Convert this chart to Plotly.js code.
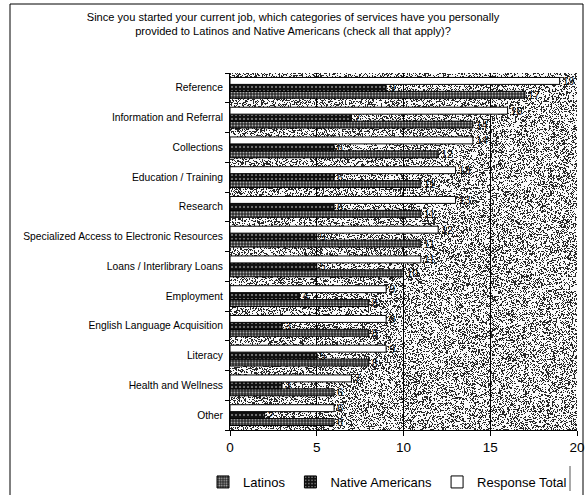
<!DOCTYPE html>
<html>
<head>
<meta charset="utf-8">
<script src="https://cdn.plot.ly/plotly-3.0.1.min.js"></script>
<style>
  html, body { margin: 0; padding: 0; background: #ffffff; }
  #chart { width: 586px; height: 495px; }
</style>
</head>
<body>
<div id="chart"></div>
<script>
// Service categories, listed bottom-to-top so "Reference" sits at the top
const categories = [
  'Other',
  'Health and Wellness',
  'Literacy',
  'English Language Acquisition',
  'Employment',
  'Loans / Interlibrary Loans',
  'Specialized Access to Electronic Resources',
  'Research',
  'Education / Training',
  'Collections',
  'Information and Referral',
  'Reference'
];
const latinos         = [6, 6, 8, 8, 8, 10, 11, 11, 11, 12, 14, 17];
const nativeAmericans = [2, 3, 5, 3, 4, 5, 5, 6, 6, 6, 7, 9];
const responseTotal   = [6, 7, 9, 9, 9, 11, 12, 13, 13, 14, 16, 19];
const xTicks = [0, 5, 10, 15, 20];

// Plot-area geometry (pixels) used for the surrounding frame
const W = 586, H = 495;
const M = { l: 230, r: 9, t: 73, b: 65 };
const PW = W - M.l - M.r, PH = H - M.t - M.b;
const px = x => (x - M.l) / PW;
const py = y => (H - M.b - y) / PH;

// Fine stippled grey texture for the plot background
function stipple(w, h, density) {
  const c = document.createElement('canvas');
  c.width = w; c.height = h;
  const g = c.getContext('2d');
  const img = g.createImageData(w, h);
  const hash = (a, b) => {
    let n = (a * 374761393 + b * 668265263) | 0;
    n = (n ^ (n >>> 13)) * 1274126177 | 0;
    n = n ^ (n >>> 16);
    return ((n >>> 0) % 10000) / 10000;
  };
  for (let y = 0; y < h; y++) {
    for (let x = 0; x < w; x++) {
      const v = 0.8 * hash(x, y) + 0.2 * hash(x >> 1, (y >> 1) + 7919);
      const k = v < density ? 40 : 250;
      const i = (y * w + x) * 4;
      img.data[i] = img.data[i + 1] = img.data[i + 2] = k;
      img.data[i + 3] = 255;
    }
  }
  g.putImageData(img, 0, 0);
  return c.toDataURL('image/png');
}

const labelFont = { family: 'Liberation Sans, Arial, sans-serif', size: 10.5, color: '#000' };

const barCommon = {
  type: 'bar', orientation: 'h',
  y: categories,
  textposition: 'outside',
  constraintext: 'none',
  textfont: labelFont,
  cliponaxis: false
};

const traces = [
  Object.assign({}, barCommon, {
    name: 'Latinos',
    x: latinos,
    text: latinos.map(String),
    marker: {
      color: '#3a3a3a',
      line: { color: '#000', width: 1 },
      pattern: { shape: '.', bgcolor: '#2e2e2e', fgcolor: '#b0b0b0', size: 3, solidity: 0.3, fillmode: 'replace' }
    }
  }),
  Object.assign({}, barCommon, {
    name: 'Native Americans',
    x: nativeAmericans,
    text: nativeAmericans.map(String),
    marker: {
      color: '#151515',
      line: { color: '#000', width: 1 },
      pattern: { shape: '.', bgcolor: '#111111', fgcolor: '#8a8a8a', size: 4, solidity: 0.2, fillmode: 'replace' }
    }
  }),
  Object.assign({}, barCommon, {
    name: 'Response Total',
    x: responseTotal,
    text: responseTotal.map(String),
    marker: { color: '#ffffff', line: { color: '#000', width: 1 } }
  })
];

const layout = {
  width: W, height: H,
  margin: Object.assign({ autoexpand: false }, M),
  paper_bgcolor: '#ffffff',
  plot_bgcolor: 'rgba(0,0,0,0)',
  font: { family: 'Liberation Sans, Arial, sans-serif', color: '#000' },
  title: {
    text: 'Since you started your current job, which categories of services have you personally<br>provided to Latinos and Native Americans (check all that apply)?',
    font: { size: 11.1, color: '#000' },
    x: 0.5, xanchor: 'center',
    y: 1 - 21 / H, yanchor: 'middle'
  },
  barmode: 'group',
  bargap: 0.3,
  bargroupgap: 0,
  showlegend: true,
  legend: {
    orientation: 'h',
    x: px(203), xanchor: 'left',
    y: py(482), yanchor: 'middle',
    font: { size: 13, color: '#000' },
    bgcolor: 'rgba(0,0,0,0)',
    traceorder: 'normal'
  },
  xaxis: {
    range: [0, 20],
    tickvals: xTicks,
    ticktext: xTicks.map(String),
    tickfont: { size: 13.5 },
    ticks: 'outside', ticklen: 5, tickcolor: '#000',
    showgrid: true, gridcolor: '#000', gridwidth: 1,
    showline: true, linecolor: '#000', linewidth: 1,
    zeroline: false,
    fixedrange: true
  },
  yaxis: {
    type: 'category',
    tickfont: { size: 10.3 },
    ticks: 'outside', ticklen: 4, tickcolor: '#000',
    tickson: 'boundaries',
    ticklabelstandoff: 4,
    showgrid: false,
    showline: true, linecolor: '#000', linewidth: 1,
    fixedrange: true
  },
  images: [{
    source: stipple(PW, PH, 0.38),
    xref: 'paper', yref: 'paper',
    x: 0, y: 1, sizex: 1, sizey: 1,
    xanchor: 'left', yanchor: 'top',
    sizing: 'stretch', layer: 'below'
  }],
  shapes: [
    // outer chart frame
    { type: 'rect', xref: 'paper', yref: 'paper',
      x0: px(10), x1: px(583), y0: py(505), y1: py(4),
      line: { color: '#000', width: 1 }, fillcolor: 'rgba(0,0,0,0)' },
    // legend box edge
    { type: 'line', xref: 'paper', yref: 'paper',
      x0: px(570), x1: px(570), y0: py(466), y1: py(491),
      line: { color: '#555', width: 1 } }
  ]
};

Plotly.newPlot('chart', traces, layout, { displayModeBar: false, staticPlot: true });
</script>
</body>
</html>
